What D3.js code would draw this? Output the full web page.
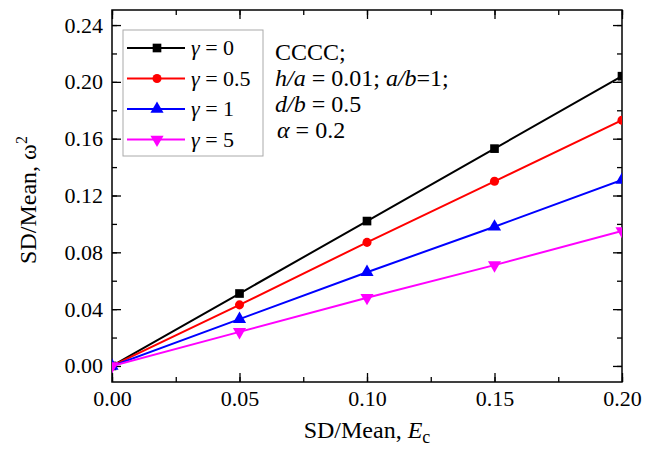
<!DOCTYPE html>
<html>
<head>
<meta charset="utf-8">
<script src="https://cdn.jsdelivr.net/npm/d3@7"></script>
<style>
  body { margin: 0; background: #fff; }
  text { font-family: "Liberation Serif", "Times New Roman", serif; }
</style>
</head>
<body>
<div class="graphArea"></div>
<script>
// values
const xValues = [0, 0.05, 0.10, 0.15, 0.20];
const gamma0 = [0, 0.051, 0.102, 0.153, 0.204];
const gamma05 = [0, 0.043, 0.087, 0.130, 0.173];
const gamma1 = [0, 0.033, 0.066, 0.098, 0.131];
const gamma5 = [0, 0.024, 0.048, 0.071, 0.095];
const seriesNames = ["0", "0.5", "1", "5"];
const xTicks = [0, 0.05, 0.10, 0.15, 0.20];
const yTicks = [0, 0.04, 0.08, 0.12, 0.16, 0.20, 0.24];

const series = [
  { name: seriesNames[0], values: gamma0, color: "#000000", shape: d3.symbolSquare },
  { name: seriesNames[1], values: gamma05, color: "#ff0000", shape: d3.symbolCircle },
  { name: seriesNames[2], values: gamma1, color: "#0000ff", shape: d3.symbolTriangle },
  { name: seriesNames[3], values: gamma5, color: "#ff00ff", shape: "down" }
];

let width = 656,
  height = 453;
let margin = { top: 10, right: 34, bottom: 71, left: 112 };
let innerW = width - margin.left - margin.right,
  innerH = height - margin.top - margin.bottom;

let x = d3.scaleLinear().domain([0, 0.2]).range([0, innerW]);
let y = d3.scaleLinear().domain([-0.0113, 0.2506]).range([innerH, 0]);

const svg = d3
  .select(".graphArea")
  .append("svg")
  .attr("width", width)
  .attr("height", height);

const g = svg
  .append("g")
  .attr("transform", "translate(" + margin.left + "," + margin.top + ")");

g.append("clipPath")
  .attr("id", "clip")
  .append("rect")
  .attr("width", innerW)
  .attr("height", innerH);

const minorX = d3.range(0, 0.2001, 0.025);
const minorY = d3.range(0, 0.2501, 0.02);

function styleAxis(sel) {
  sel.select(".domain").remove();
  sel.selectAll("line").attr("stroke", "#000").attr("stroke-width", 1.3);
  sel.selectAll("text")
    .style("font-size", "22px")
    .attr("fill", "#000");
}

// bottom axis
g.append("g")
  .attr("transform", "translate(0," + innerH + ")")
  .call(d3.axisBottom(x).tickValues(minorX).tickSize(-5).tickFormat(""))
  .call(styleAxis);
g.append("g")
  .attr("transform", "translate(0," + innerH + ")")
  .call(d3.axisBottom(x).tickValues(xTicks).tickSize(-9).tickPadding(8).tickFormat(d3.format(".2f")))
  .call(styleAxis);
// top axis
g.append("g")
  .call(d3.axisTop(x).tickValues(minorX).tickSize(-5).tickFormat(""))
  .call(styleAxis);
g.append("g")
  .call(d3.axisTop(x).tickValues(xTicks).tickSize(-9).tickFormat(""))
  .call(styleAxis);
// left axis
g.append("g")
  .call(d3.axisLeft(y).tickValues(minorY).tickSize(-5).tickFormat(""))
  .call(styleAxis);
g.append("g")
  .call(d3.axisLeft(y).tickValues(yTicks).tickSize(-9).tickPadding(9).tickFormat(d3.format(".2f")))
  .call(styleAxis);
// right axis
g.append("g")
  .attr("transform", "translate(" + innerW + ",0)")
  .call(d3.axisRight(y).tickValues(minorY).tickSize(-5).tickFormat(""))
  .call(styleAxis);
g.append("g")
  .attr("transform", "translate(" + innerW + ",0)")
  .call(d3.axisRight(y).tickValues(yTicks).tickSize(-9).tickFormat(""))
  .call(styleAxis);

g.append("rect")
  .attr("width", innerW)
  .attr("height", innerH)
  .attr("fill", "none")
  .attr("stroke", "#000")
  .attr("stroke-width", 1.5);

function symbolPath(shape, size) {
  if (shape === "down") return d3.symbol(d3.symbolTriangle, size)();
  return d3.symbol(shape, size)();
}

const line = d3
  .line()
  .x(function(d, i) { return x(xValues[i]); })
  .y(function(d) { return y(d); });

const plot = g.append("g").attr("clip-path", "url(#clip)");

series.forEach(function(s) {
  plot.append("path")
    .attr("d", line(s.values))
    .attr("fill", "none")
    .attr("stroke", s.color)
    .attr("stroke-width", 2);
  s.values.forEach(function(v, i) {
    plot.append("path")
      .attr("d", symbolPath(s.shape, s.shape === d3.symbolCircle ? 65 : 75))
      .attr("fill", s.color)
      .attr("transform", "translate(" + x(xValues[i]) + "," + y(v) + ")" + (s.shape === "down" ? " rotate(180)" : ""));
  });
});

// legend
const legend = svg.append("g");
legend.append("rect")
  .attr("x", 123)
  .attr("y", 30)
  .attr("width", 140)
  .attr("height", 126)
  .attr("fill", "#fff")
  .attr("stroke", "#aaa")
  .attr("stroke-width", 1);

series.forEach(function(s, i) {
  const ly = 48 + i * 30.5;
  legend.append("line")
    .attr("x1", 127).attr("x2", 185)
    .attr("y1", ly).attr("y2", ly)
    .attr("stroke", s.color)
    .attr("stroke-width", 2);
  legend.append("path")
    .attr("d", symbolPath(s.shape, s.shape === d3.symbolCircle ? 65 : 75))
    .attr("fill", s.color)
    .attr("transform", "translate(157," + ly + ")" + (s.shape === "down" ? " rotate(180)" : ""));
  const t = legend.append("text")
    .attr("x", 191)
    .attr("y", ly + 7)
    .style("font-size", "22px");
  t.append("tspan").style("font-style", "italic").text("γ");
  t.append("tspan").text(" = " + s.name);
});

// annotation
const notes = svg.append("g").style("font-size", "24px");
notes.append("text").attr("x", 275).attr("y", 60).text("CCCC;");
const n2 = notes.append("text").attr("x", 275).attr("y", 86);
n2.append("tspan").style("font-style", "italic").text("h/a");
n2.append("tspan").text(" = 0.01; ");
n2.append("tspan").style("font-style", "italic").text("a/b");
n2.append("tspan").text("=1;");
const n3 = notes.append("text").attr("x", 275).attr("y", 112);
n3.append("tspan").style("font-style", "italic").text("d/b");
n3.append("tspan").text(" = 0.5");
const n4 = notes.append("text").attr("x", 277).attr("y", 138);
n4.append("tspan").style("font-style", "italic").text("α");
n4.append("tspan").text("  = 0.2");

// axis titles
const xt = svg.append("text")
  .attr("x", margin.left + innerW / 2)
  .attr("y", 438)
  .attr("text-anchor", "middle")
  .style("font-size", "24px");
xt.append("tspan").text("SD/Mean, ");
xt.append("tspan").style("font-style", "italic").text("E");
xt.append("tspan").attr("dy", 5).style("font-size", "18px").text("c");

const yt = svg.append("text")
  .attr("transform", "translate(36,200) rotate(-90)")
  .attr("text-anchor", "middle")
  .style("font-size", "24px");
yt.append("tspan").text("SD/Mean, ω");
yt.append("tspan").attr("dy", -9).style("font-size", "16px").text("2");
</script>
</body>
</html>
